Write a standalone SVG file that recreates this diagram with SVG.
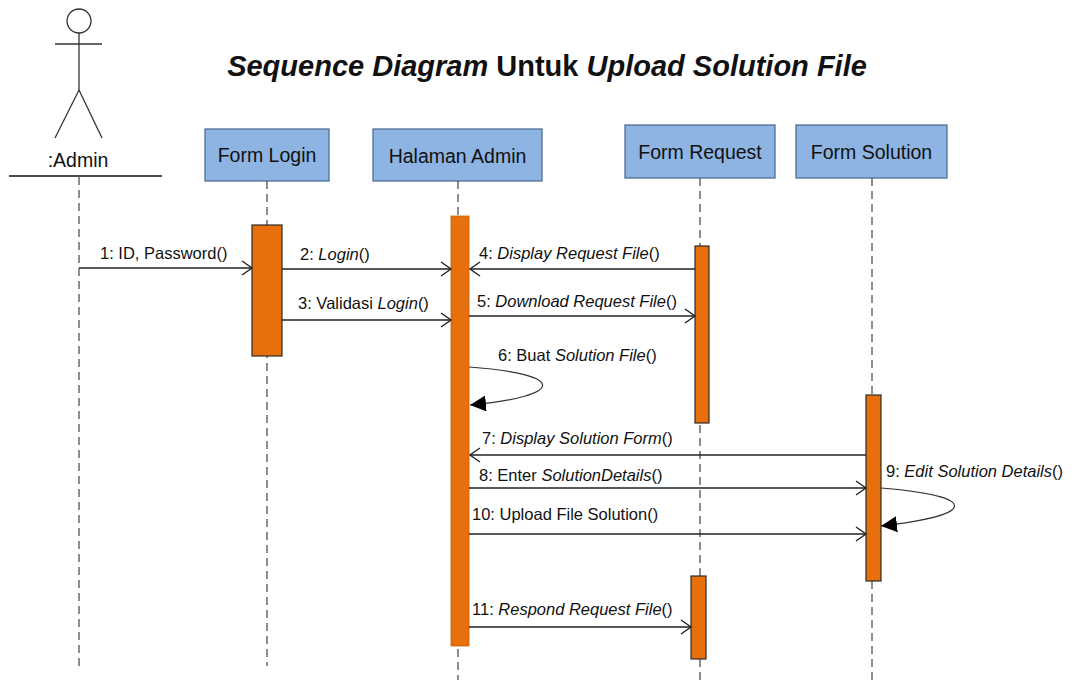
<svg xmlns="http://www.w3.org/2000/svg" width="1074" height="684" viewBox="0 0 1074 684">
<style>
text{font-family:"Liberation Sans",Arial,sans-serif;fill:#111}
.title{font-size:29px;font-weight:bold}
.box{fill:#8eb4e3;stroke:#4f6f96;stroke-width:1.3}
.blabel{font-size:19.5px;text-anchor:middle}
.life{stroke:#444;stroke-width:1.2;stroke-dasharray:8 5;fill:none}
.act{fill:#e8700c;stroke:#2b2b2b;stroke-width:1.2}
.act2{fill:#e8700c;stroke:#c85e08;stroke-width:0.8}
.msgopen{stroke:#222;stroke-width:1.4;fill:none;marker-end:url(#open)}
.loop{stroke:#333;stroke-width:1.2;fill:none;marker-end:url(#filled)}
.lbl{font-size:16.5px}
.actor{stroke:#333;stroke-width:1.3;fill:none}
</style>
<defs>
<marker id="open" markerUnits="userSpaceOnUse" markerWidth="14" markerHeight="18" refX="11" refY="8" orient="auto">
<path d="M1,1 L11,8 L1,15" fill="none" stroke="#222" stroke-width="1.4"/>
</marker>
<marker id="filled" markerUnits="userSpaceOnUse" markerWidth="18" markerHeight="18" refX="16" refY="8" orient="auto">
<path d="M0,0 L16,8 L0,16 Z" fill="#000"/>
</marker>
</defs>
<rect width="1074" height="684" fill="#fff"/>

<text class="title" x="547" y="76" text-anchor="middle"><tspan font-style="italic">Sequence Diagram</tspan> Untuk <tspan font-style="italic">Upload Solution File</tspan></text>

<g id="admin">
<circle class="actor" cx="79" cy="21" r="12"/>
<line class="actor" x1="79" y1="33" x2="79" y2="90"/>
<line class="actor" x1="55" y1="44" x2="102" y2="44"/>
<line class="actor" x1="79" y1="90" x2="55" y2="138"/>
<line class="actor" x1="79" y1="90" x2="102" y2="138"/>
<text x="78" y="167" text-anchor="middle" font-size="19.5">:Admin</text>
<line x1="9" y1="176" x2="162" y2="176" stroke="#111" stroke-width="1.5"/>
<line class="life" x1="79" y1="177" x2="79" y2="668"/>
</g>

<g id="form-login">
<rect class="box" x="205" y="129" width="124" height="52"/>
<text class="blabel" x="267" y="162">Form Login</text>
<line class="life" x1="267" y1="181" x2="267" y2="666"/>
<rect class="act" x="252" y="225" width="30" height="131"/>
</g>

<g id="halaman-admin">
<rect class="box" x="373" y="129" width="169" height="52"/>
<text class="blabel" x="457.5" y="163">Halaman Admin</text>
<line class="life" x1="458" y1="181" x2="458" y2="680"/>
<rect class="act2" x="451" y="216" width="18" height="430"/>
</g>

<g id="form-request">
<rect class="box" x="625" y="125" width="150" height="53"/>
<text class="blabel" x="700" y="159">Form Request</text>
<line class="life" x1="700" y1="178" x2="700" y2="684"/>
<rect class="act" x="695" y="246" width="14" height="177"/>
<rect class="act" x="691" y="576" width="15" height="83"/>
</g>

<g id="form-solution">
<rect class="box" x="796" y="125" width="151" height="53"/>
<text class="blabel" x="871.5" y="159">Form Solution</text>
<line class="life" x1="872" y1="178" x2="872" y2="680"/>
<rect class="act" x="866" y="395" width="15" height="186"/>
</g>

<g id="connectors">
<line class="msgopen" x1="79" y1="268" x2="252" y2="268"/>
<line class="msgopen" x1="282" y1="269" x2="451" y2="269"/>
<line class="msgopen" x1="282" y1="320" x2="451" y2="320"/>
<line class="msgopen" x1="695" y1="269" x2="470" y2="269"/>
<line class="msgopen" x1="469" y1="316" x2="695" y2="316"/>
<path class="loop" d="M469,367 C567,374 567,396 470,405"/>
<line class="msgopen" x1="866" y1="455" x2="470" y2="455"/>
<line class="msgopen" x1="469" y1="488" x2="866" y2="488"/>
<path class="loop" d="M881,488 C979,496 979,515 881,526"/>
<line class="msgopen" x1="469" y1="534" x2="866" y2="534"/>
<line class="msgopen" x1="469" y1="627" x2="691" y2="627"/>
</g>

<g id="labels">
<text class="lbl" x="100" y="259">1: ID, Password()</text>
<text class="lbl" x="300" y="260">2: <tspan font-style="italic">Login</tspan>()</text>
<text class="lbl" x="298" y="309">3: Validasi <tspan font-style="italic">Login</tspan>()</text>
<text class="lbl" x="479" y="259">4: <tspan font-style="italic">Display Request File</tspan>()</text>
<text class="lbl" x="477" y="307">5: <tspan font-style="italic">Download Request File</tspan>()</text>
<text class="lbl" x="498" y="361">6: Buat <tspan font-style="italic">Solution File</tspan>()</text>
<text class="lbl" x="482" y="444">7: <tspan font-style="italic">Display Solution Form</tspan>()</text>
<text class="lbl" x="479" y="481">8: Enter <tspan font-style="italic">SolutionDetails</tspan>()</text>
<text class="lbl" x="886" y="477">9: <tspan font-style="italic">Edit Solution Details</tspan>()</text>
<text class="lbl" x="472" y="520">10: Upload File Solution()</text>
<text class="lbl" x="472" y="615">11: <tspan font-style="italic">Respond Request File</tspan>()</text>
</g>
</svg>
